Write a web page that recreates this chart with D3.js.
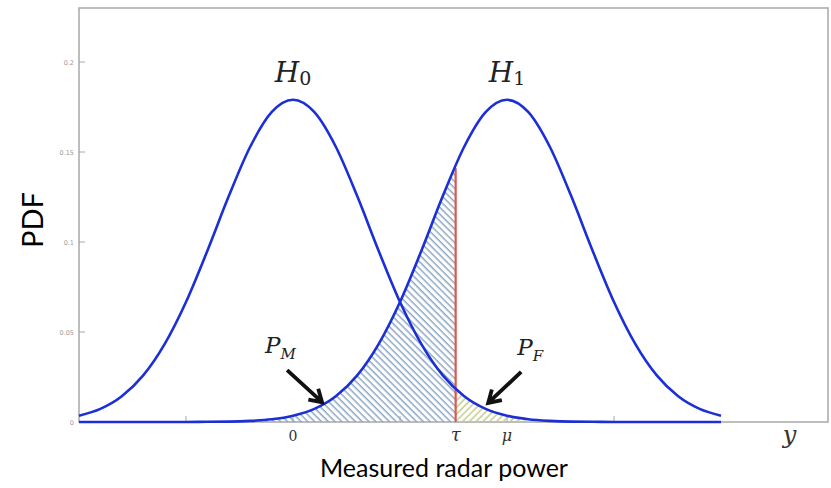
<!DOCTYPE html>
<html>
<head>
<meta charset="utf-8">
<script src="https://cdn.jsdelivr.net/npm/d3@7"></script>
<style>
  body { margin: 0; background: #fff; }
  svg { display: block; }
</style>
</head>
<body>
<div id="viz"></div>
<script>
// sample positions along the measured power axis
const xs = [-5, -4.5, -4, -3.5, -3, -2.5, -2, -1.5, -1, -0.5, 0, 0.5, 1, 1.5, 2, 2.5,
  3, 3.5, 4, 4.5, 5, 5.5, 6, 6.5, 7, 7.5, 8, 8.5, 9, 9.5, 10];

// PDF under H0 (noise only)
const h0 = [0.0035, 0.0073, 0.0143, 0.0259, 0.0433, 0.0667, 0.0952, 0.1255, 0.1529, 0.1721,
  0.179, 0.1721, 0.1529, 0.1255, 0.0952, 0.0667, 0.0433, 0.0259, 0.0143, 0.0073,
  0.0035, 0.0015, 0.0006, 0.0002, 0.0001, 0, 0, 0, 0, 0, 0];

// PDF under H1 (target present)
const h1 = [0, 0, 0, 0, 0, 0, 0.0001, 0.0002, 0.0006, 0.0015, 0.0035, 0.0073, 0.0143, 0.0259,
  0.0433, 0.0667, 0.0952, 0.1255, 0.1529, 0.1721, 0.179, 0.1721, 0.1529, 0.1255,
  0.0952, 0.0667, 0.0433, 0.0259, 0.0143, 0.0073, 0.0035];

const tau = 3.8;
const h1AtTau = 0.141;
const mu = 5;

const yTicks = [0, 0.05, 0.1, 0.15, 0.2];
const yTickLabels = ['0', '0.05', '0.1', '0.15', '0.2'];
const xTickMarks = [-2.5, 0, 2.5, 5, 7.5];
const xLabels = [
  { x: 0, text: '0', italic: false, size: 14 },
  { x: tau, text: 'τ', italic: true, size: 18 },
  { x: mu, text: 'μ', italic: true, size: 16 },
];

const width = 831;
const height = 488;
const margin = { left: 79, right: 3, top: 8, bottom: 66 };

const svg = d3.select('#viz').append('svg')
  .attr('width', width)
  .attr('height', height);

const xScale = d3.scaleLinear()
  .domain([-5, 12.5])
  .range([margin.left, width - margin.right]);

const yScale = d3.scaleLinear()
  .domain([0, 0.23])
  .range([height - margin.bottom, margin.top]);

const rows = xs.map((x, i) => ({ x, h0: h0[i], h1: h1[i] }));

// hatch patterns
const defs = svg.append('defs');
const hatch = (id, color, angle) => {
  const p = defs.append('pattern')
    .attr('id', id)
    .attr('patternUnits', 'userSpaceOnUse')
    .attr('width', 4.8)
    .attr('height', 4.8)
    .attr('patternTransform', `rotate(${angle})`);
  p.append('line')
    .attr('x1', 1.2).attr('x2', 1.2)
    .attr('y1', 0).attr('y2', 4.8)
    .attr('stroke', color)
    .attr('stroke-width', 1.5);
};
hatch('hatchBlue', '#8aa6c2', -45);
hatch('hatchGreen', '#c2cc86', 45);

defs.append('clipPath').attr('id', 'leftOfTau')
  .append('rect')
  .attr('x', xScale(-5)).attr('y', 0)
  .attr('width', xScale(tau) - xScale(-5))
  .attr('height', height);
defs.append('clipPath').attr('id', 'rightOfTau')
  .append('rect')
  .attr('x', xScale(tau)).attr('y', 0)
  .attr('width', xScale(12.5) - xScale(tau))
  .attr('height', height);

// frame
svg.append('rect')
  .attr('x', xScale(-5))
  .attr('y', yScale(0.23))
  .attr('width', xScale(12.5) - xScale(-5))
  .attr('height', yScale(0) - yScale(0.23))
  .attr('fill', 'none')
  .attr('stroke', '#a8a8a8')
  .attr('stroke-width', 1.5);

// y ticks (inward) with tiny labels
const g = svg.append('g');
g.selectAll('line.ytick')
  .data(yTicks)
  .enter()
  .append('line')
  .attr('class', 'ytick')
  .attr('x1', xScale(-5))
  .attr('x2', xScale(-5) + 6)
  .attr('y1', d => yScale(d))
  .attr('y2', d => yScale(d))
  .attr('stroke', '#a8a8a8');

g.selectAll('text.ylab')
  .data(yTicks)
  .enter()
  .append('text')
  .attr('class', 'ylab')
  .attr('x', xScale(-5) - 5)
  .attr('y', d => yScale(d) + 2.5)
  .attr('text-anchor', 'end')
  .attr('font-family', 'DejaVu Sans')
  .attr('font-size', 6.5)
  .attr('fill', '#999')
  .text((d, i) => yTickLabels[i]);

// x tick marks (inward)
g.selectAll('line.xtick')
  .data(xTickMarks)
  .enter()
  .append('line')
  .attr('class', 'xtick')
  .attr('x1', d => xScale(d))
  .attr('x2', d => xScale(d))
  .attr('y1', yScale(0))
  .attr('y2', yScale(0) - 6)
  .attr('stroke', '#a8a8a8');

// hatched areas
const area = key => d3.area()
  .curve(d3.curveMonotoneX)
  .x(d => xScale(d.x))
  .y0(yScale(0))
  .y1(d => yScale(d[key]));

g.append('path')
  .datum(rows)
  .attr('d', area('h1'))
  .attr('fill', 'url(#hatchBlue)')
  .attr('clip-path', 'url(#leftOfTau)');

g.append('path')
  .datum(rows)
  .attr('d', area('h0'))
  .attr('fill', 'url(#hatchGreen)')
  .attr('clip-path', 'url(#rightOfTau)');

// threshold line
g.append('line')
  .attr('x1', xScale(tau))
  .attr('x2', xScale(tau))
  .attr('y1', yScale(0))
  .attr('y2', yScale(h1AtTau))
  .attr('stroke', '#e0564e')
  .attr('stroke-width', 2.2);

// pdf curves
const line = key => d3.line()
  .curve(d3.curveMonotoneX)
  .x(d => xScale(d.x))
  .y(d => yScale(d[key]));

['h0', 'h1'].forEach((key) => {
  g.append('path')
    .datum(rows)
    .attr('d', line(key))
    .attr('fill', 'none')
    .attr('stroke', '#1c2fd6')
    .attr('stroke-width', 2.6);
});

// hypothesis labels
const hyp = [
  { x: 0, sub: '0' },
  { x: mu, sub: '1' },
];
const hText = g.selectAll('text.hyp')
  .data(hyp)
  .enter()
  .append('text')
  .attr('class', 'hyp')
  .attr('x', d => xScale(d.x))
  .attr('y', yScale(0.179) - 18)
  .attr('text-anchor', 'middle')
  .attr('font-family', 'DejaVu Serif')
  .attr('fill', '#222');
hText.append('tspan')
  .attr('font-style', 'italic')
  .attr('font-size', 28)
  .text('H');
hText.append('tspan')
  .attr('font-size', 19)
  .attr('dy', 3)
  .text(d => d.sub);

// probability annotations with arrows
const notes = [
  { x: 0.68, y: 0.011, dx: -35, dy: -32, main: 'P', sub: 'M', tx: -22, ty: -17 },
  { x: 4.56, y: 0.0106, dx: 33, dy: -31, main: 'P', sub: 'F', tx: -4, ty: -17 },
];

notes.forEach((n) => {
  const tipX = xScale(n.x);
  const tipY = yScale(n.y);
  const tailX = tipX + n.dx;
  const tailY = tipY + n.dy;
  const ang = Math.atan2(n.dy, n.dx); // direction tip -> tail
  const barb = 14;
  const spread = 0.55;
  const b1 = [tipX + barb * Math.cos(ang - spread), tipY + barb * Math.sin(ang - spread)];
  const b2 = [tipX + barb * Math.cos(ang + spread), tipY + barb * Math.sin(ang + spread)];
  g.append('path')
    .attr('d', `M${tailX},${tailY}L${tipX},${tipY}M${b1[0]},${b1[1]}L${tipX},${tipY}L${b2[0]},${b2[1]}`)
    .attr('fill', 'none')
    .attr('stroke', '#111')
    .attr('stroke-width', 3.8)
    .attr('stroke-linejoin', 'miter')
    .attr('stroke-linecap', 'butt');

  const t = g.append('text')
    .attr('x', tailX + n.tx)
    .attr('y', tailY + n.ty)
    .attr('font-family', 'DejaVu Serif')
    .attr('font-style', 'italic')
    .attr('fill', '#222');
  t.append('tspan').attr('font-size', 23).text(n.main);
  t.append('tspan').attr('font-size', 15).attr('dy', 6).text(n.sub);
});

// x labels: 0, tau, mu
g.selectAll('text.xlab')
  .data(xLabels)
  .enter()
  .append('text')
  .attr('class', 'xlab')
  .attr('x', d => xScale(d.x))
  .attr('y', yScale(0) + 19)
  .attr('text-anchor', 'middle')
  .attr('font-family', 'DejaVu Serif')
  .attr('font-style', d => d.italic ? 'italic' : 'normal')
  .attr('font-size', d => d.size)
  .attr('fill', '#333')
  .text(d => d.text);

// variable name at the axis end
g.append('text')
  .attr('x', xScale(11.6))
  .attr('y', yScale(0) + 21)
  .attr('text-anchor', 'middle')
  .attr('font-family', 'DejaVu Serif')
  .attr('font-style', 'italic')
  .attr('font-size', 24)
  .attr('fill', '#333')
  .text('y');

// axis titles
svg.append('text')
  .attr('x', 444)
  .attr('y', 477)
  .attr('text-anchor', 'middle')
  .attr('font-family', 'Lato')
  .attr('font-size', 25)
  .attr('fill', '#000')
  .text('Measured radar power');

svg.append('text')
  .attr('transform', 'translate(43,220) rotate(-90)')
  .attr('text-anchor', 'middle')
  .attr('font-family', 'Lato')
  .attr('font-size', 29)
  .attr('fill', '#000')
  .text('PDF');
</script>
</body>
</html>
